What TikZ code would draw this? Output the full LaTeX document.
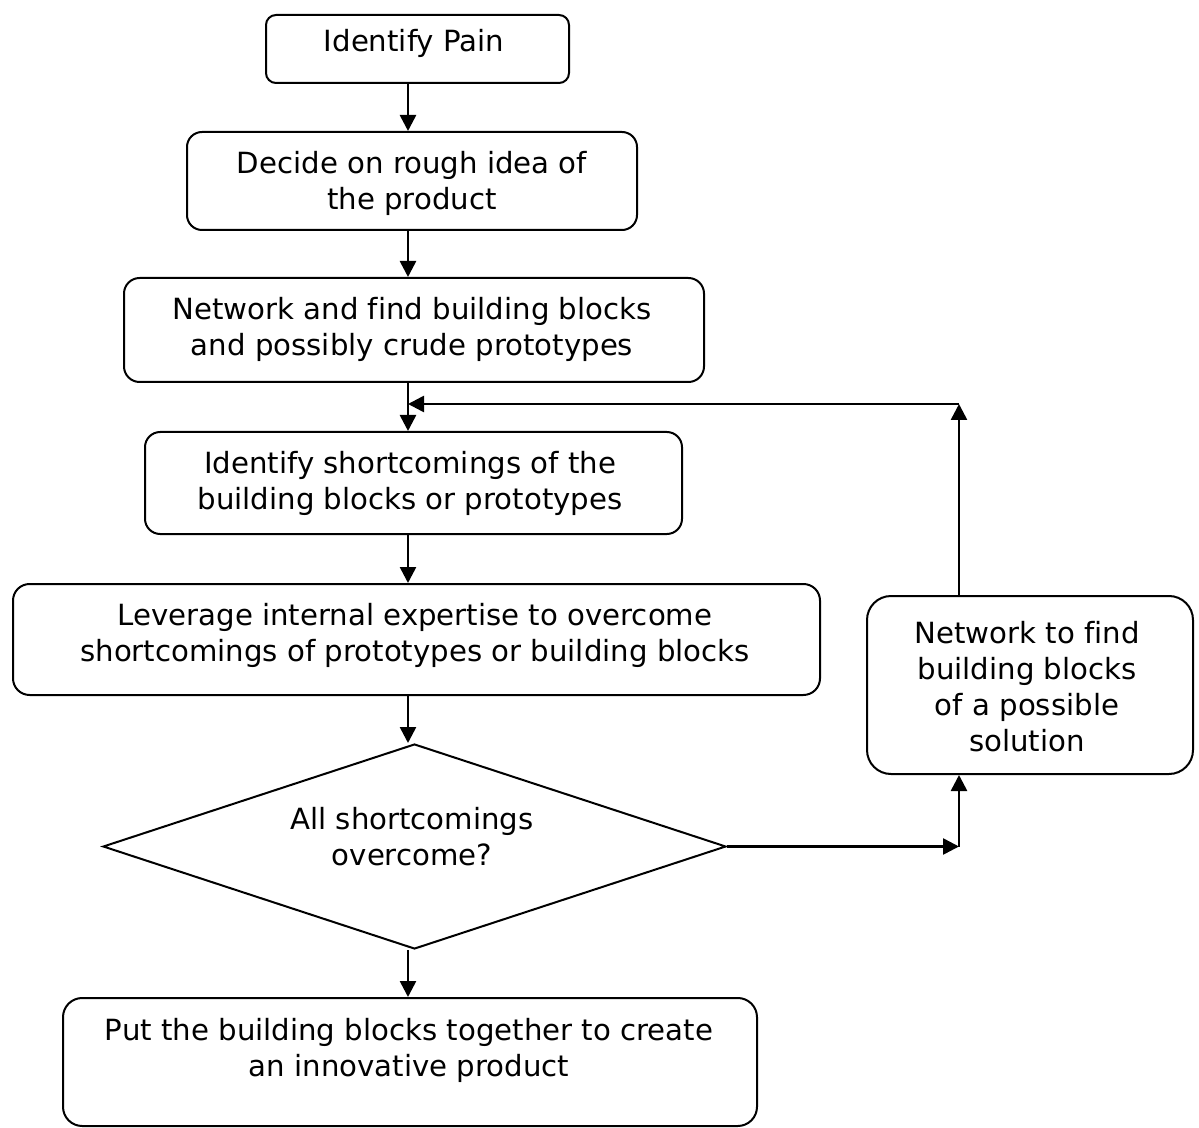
\documentclass[tikz,border=0pt]{standalone}
\usepackage{fontspec}
\setmainfont[Ligatures=NoCommon]{DejaVu Sans}
\usetikzlibrary{arrows.meta,shapes.geometric}
\begin{document}
\begin{tikzpicture}[x=0.5pt,y=-0.5pt,
  box/.style={draw, line width=1pt, inner sep=0pt},
  txt/.style={align=center, inner sep=0pt, font=\fontsize{14.6}{18}\selectfont},
  arr/.style={line width=1.3pt, -{Triangle[length=8pt,width=8pt]}}]
\useasboundingbox (0,0) rectangle (1199,1128);
% boxes
\node[box, minimum width=151.5pt, minimum height=34pt, rounded corners=5pt] (b1) at (417.5,49) {};
\node[box, minimum width=225pt, minimum height=49pt, rounded corners=7.5pt] (b2) at (412,181) {};
\node[box, minimum width=290pt, minimum height=52pt, rounded corners=7.8pt] (b3) at (414,330) {};
\node[box, minimum width=268.5pt, minimum height=51pt, rounded corners=7.6pt] (b4) at (413.5,483) {};
\node[box, minimum width=403.5pt, minimum height=55.5pt, rounded corners=8.3pt] (b5) at (416.5,639.5) {};
\node[draw, line width=1pt, diamond, aspect=3, inner sep=0pt, minimum width=311.5pt, minimum height=102.5pt] (d) at (414.5,846.5) {};
\node[box, minimum width=347pt, minimum height=64pt, rounded corners=9.6pt] (b7) at (410,1062) {};
\node[box, minimum width=163pt, minimum height=89pt, rounded corners=12pt] (b8) at (1030,685) {};
% texts
\node[txt] (t1) at (414,43) {Identify Pain};
\node[txt] (t2) at (412,183) {Decide on rough idea of\\the product};
\node[txt] (t3) at (412,329) {Network and find building blocks\\and possibly crude prototypes};
\node[txt] (t4) at (410,483) {Identify shortcomings of the\\building blocks or prototypes};
\node[txt] (t5) at (415,635) {Leverage internal expertise to overcome\\shortcomings of prototypes or building blocks};
\node[txt] (t6) at (412,837) {All shortcomings\\overcome?};
\node[txt] (t7) at (409,1050) {Put the building blocks together to create\\an innovative product};
\node[txt] (t8) at (1027,687) {Network to find\\building blocks\\of a possible\\solution};
% connectors
\coordinate (axis) at (408,0);
\coordinate (top) at (959,404);
\coordinate (turn) at (959,846.5);
\draw[arr] (b1.south -| axis) -- (b2.north -| axis);
\draw[arr] (b2.south -| axis) -- (b3.north -| axis);
\draw[arr] (b3.south -| axis) -- (b4.north -| axis);
\draw[arr] (b4.south -| axis) -- (b5.north -| axis);
\draw[arr] (b5.south -| axis) -- (d.north -| axis);
\draw[arr] (d.south -| axis) -- (b7.north -| axis);
\draw[arr] (d.east) -- (turn);
\draw[arr] (turn) -- (b8.south -| turn);
\draw[arr] (b8.north -| top) -- (top);
\draw[arr] (top) -- (top -| axis);
\end{tikzpicture}
\end{document}
